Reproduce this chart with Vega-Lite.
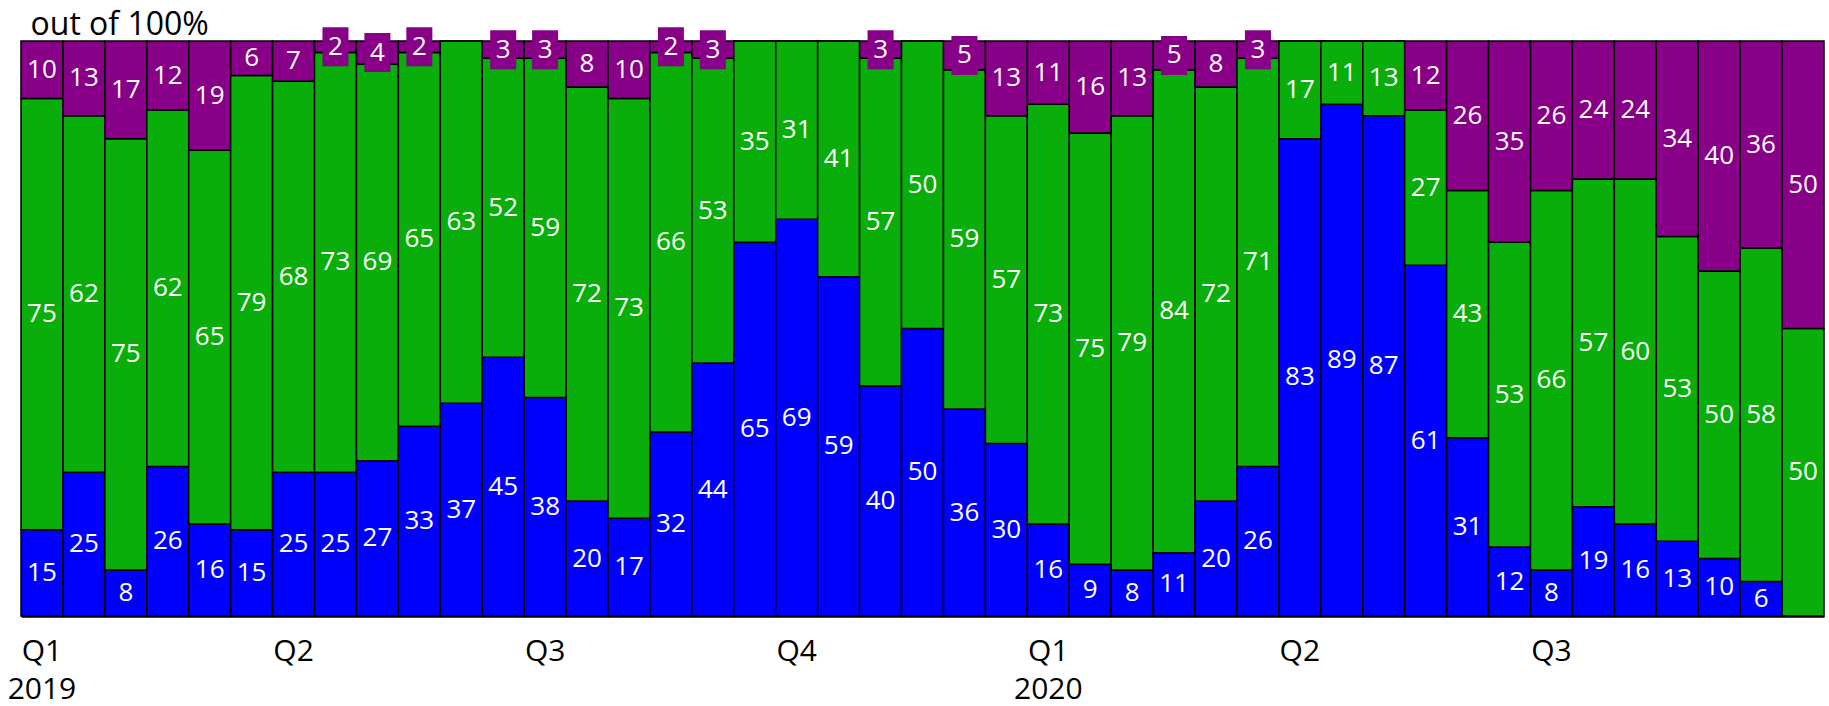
{
  "$schema": "https://vega.github.io/schema/vega-lite/v6.json",
  "width": 1803,
  "height": 575,
  "autosize": {"type": "none"},
  "padding": {"left": 21, "top": 41, "right": 5, "bottom": 90},
  "background": "white",
  "config": {"view": {"stroke": null}, "font": "Open Sans"},
  "data": {"values": [
    {"i":1,"blue":15,"green":75,"purple":10},
    {"i":2,"blue":25,"green":62,"purple":13},
    {"i":3,"blue":8,"green":75,"purple":17},
    {"i":4,"blue":26,"green":62,"purple":12},
    {"i":5,"blue":16,"green":65,"purple":19},
    {"i":6,"blue":15,"green":79,"purple":6},
    {"i":7,"blue":25,"green":68,"purple":7},
    {"i":8,"blue":25,"green":73,"purple":2},
    {"i":9,"blue":27,"green":69,"purple":4},
    {"i":10,"blue":33,"green":65,"purple":2},
    {"i":11,"blue":37,"green":63,"purple":0},
    {"i":12,"blue":45,"green":52,"purple":3},
    {"i":13,"blue":38,"green":59,"purple":3},
    {"i":14,"blue":20,"green":72,"purple":8},
    {"i":15,"blue":17,"green":73,"purple":10},
    {"i":16,"blue":32,"green":66,"purple":2},
    {"i":17,"blue":44,"green":53,"purple":3},
    {"i":18,"blue":65,"green":35,"purple":0},
    {"i":19,"blue":69,"green":31,"purple":0},
    {"i":20,"blue":59,"green":41,"purple":0},
    {"i":21,"blue":40,"green":57,"purple":3},
    {"i":22,"blue":50,"green":50,"purple":0},
    {"i":23,"blue":36,"green":59,"purple":5},
    {"i":24,"blue":30,"green":57,"purple":13},
    {"i":25,"blue":16,"green":73,"purple":11},
    {"i":26,"blue":9,"green":75,"purple":16},
    {"i":27,"blue":8,"green":79,"purple":13},
    {"i":28,"blue":11,"green":84,"purple":5},
    {"i":29,"blue":20,"green":72,"purple":8},
    {"i":30,"blue":26,"green":71,"purple":3},
    {"i":31,"blue":83,"green":17,"purple":0},
    {"i":32,"blue":89,"green":11,"purple":0},
    {"i":33,"blue":87,"green":13,"purple":0},
    {"i":34,"blue":61,"green":27,"purple":12},
    {"i":35,"blue":31,"green":43,"purple":26},
    {"i":36,"blue":12,"green":53,"purple":35},
    {"i":37,"blue":8,"green":66,"purple":26},
    {"i":38,"blue":19,"green":57,"purple":24},
    {"i":39,"blue":16,"green":60,"purple":24},
    {"i":40,"blue":13,"green":53,"purple":34},
    {"i":41,"blue":10,"green":50,"purple":40},
    {"i":42,"blue":6,"green":58,"purple":36},
    {"i":43,"blue":0,"green":50,"purple":50}
  ]},
  "transform": [
    {"fold": ["blue", "green", "purple"], "as": ["cat", "v"]}
  ],
  "encoding": {
    "x": {
      "field": "i", "type": "ordinal",
      "scale": {"paddingInner": 0, "paddingOuter": 0},
      "axis": {
        "title": null,
        "ticks": false,
        "tickSize": 0,
        "domain": true,
        "domainColor": "black",
        "domainWidth": 2.5,
        "labelAngle": 0,
        "labelOverlap": false,
        "labelFont": "Open Sans",
        "labelFontSize": 30,
        "labelColor": "black",
        "labelPadding": 20,
        "labelLineHeight": 38,
        "labelExpr": "datum.value == 1 ? ['Q1','2019'] : datum.value == 7 ? 'Q2' : datum.value == 13 ? 'Q3' : datum.value == 19 ? 'Q4' : datum.value == 25 ? ['Q1','2020'] : datum.value == 31 ? 'Q2' : datum.value == 37 ? 'Q3' : ''"
      }
    }
  },
  "layer": [
    {
      "mark": {"type": "bar", "stroke": "black", "strokeWidth": 1.5},
      "encoding": {
        "y": {"field": "v", "type": "quantitative", "stack": "zero", "scale": {"domain": [0, 100]},
          "axis": {
            "title": "out of 100%",
            "domain": false, "ticks": false, "labels": false, "grid": false,
            "titleAngle": 0, "titleAlign": "left", "titleBaseline": "alphabetic",
            "titleX": 9, "titleY": -7,
            "titleFont": "Open Sans", "titleFontSize": 32, "titleFontWeight": "normal", "titleColor": "black"
          }
        },
        "color": {"field": "cat", "type": "nominal", "scale": {"domain": ["blue", "green", "purple"], "range": ["#0000FF", "#0AAE0A", "#870087"]}, "legend": null},
        "order": {"field": "cat", "sort": "ascending"}
      }
    },
    {
      "mark": {"type": "point", "shape": "M-0.667,-1L0.667,-1L0.667,1L-0.667,1Z", "filled": true, "color": "#870087", "size": 1521, "strokeWidth": 0},
      "encoding": {
        "y": {"field": "v", "type": "quantitative", "stack": "zero", "bandPosition": 0.5},
        "detail": {"field": "cat"},
        "order": {"field": "cat", "sort": "ascending"},
        "opacity": {"condition": {"test": "datum.cat == 'purple' && datum.v > 0 && datum.v <= 5", "value": 1}, "value": 0}
      }
    },
    {
      "transform": [{"filter": "datum.v > 0"}],
      "mark": {"type": "text", "color": "white", "font": "Open Sans", "fontSize": 26, "baseline": "middle", "align": "center"},
      "encoding": {
        "y": {"field": "v", "type": "quantitative", "stack": "zero", "bandPosition": 0.5},
        "detail": {"field": "cat"},
        "order": {"field": "cat", "sort": "ascending"},
        "text": {"field": "v", "type": "quantitative"}
      }
    }
  ]
}
